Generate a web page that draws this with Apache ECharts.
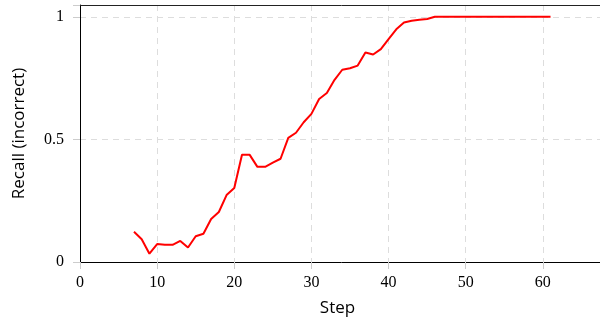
<!DOCTYPE html>
<html><head><meta charset="utf-8">
<script src="https://cdn.jsdelivr.net/npm/echarts@6/dist/echarts.min.js"></script>
<style>html,body{margin:0;padding:0;background:#fff;overflow:hidden;width:600px;height:322px}#c{width:606px;height:322px}</style>
</head><body><div id="c"></div>
<script>
var steps = [7,8,9,10,11,12,13,14,15,16,17,18,19,20,21,22,23,24,25,26,27,28,29,30,31,32,33,34,35,36,37,38,39,40,41,42,43,44,45,46,47,48,49,50,51,52,53,54,55,56,57,58,59,60,61];
var recall = [0.123,0.093,0.034,0.073,0.070,0.070,0.086,0.059,0.105,0.115,0.175,0.204,0.273,0.302,0.437,0.437,0.388,0.388,0.405,0.421,0.506,0.527,0.570,0.604,0.665,0.689,0.743,0.784,0.790,0.801,0.854,0.846,0.868,0.909,0.949,0.977,0.984,0.988,0.991,1,1,1,1,1,1,1,1,1,1,1,1,1,1,1,1];
var xTicks = [0,10,20,30,40,50,60];
var yTicks = [0,0.5,1];

var chart = echarts.init(document.getElementById('c'));
var serif = '"Liberation Serif", serif';
var sans = '"Open Sans", sans-serif';
var XMAX = 67.8;
chart.setOption({
  animation:false,
  grid:{left:80,right:0,top:5,bottom:59},
  xAxis:[{type:'value',min:0,max:XMAX,interval:10,
    name:'Step',nameLocation:'middle',nameGap:38,
    nameTextStyle:{fontFamily:sans,fontSize:17,color:'#000',padding:[0,8,0,0]},
    axisLine:{lineStyle:{color:'#000',width:1}},
    axisTick:{show:true,length:7,lineStyle:{color:'#ccc'}},
    axisLabel:{fontFamily:serif,fontSize:16,color:'#000',margin:13,
      formatter:function(v){return xTicks.indexOf(v)>=0?String(v):'';}},
    splitLine:{show:true,lineStyle:{color:'#ddd',type:[6,5]}}},
   {type:'value',position:'top',min:0,max:XMAX,
    axisLine:{show:true,lineStyle:{color:'#222',width:1}},
    axisTick:{show:false},axisLabel:{show:false},splitLine:{show:false}}],
  yAxis:{type:'value',min:0,max:1.048,interval:0.5,
    name:'Recall (incorrect)',nameLocation:'middle',nameGap:52,
    nameTextStyle:{fontFamily:sans,fontSize:17,color:'#000'},
    axisLine:{show:true,lineStyle:{color:'#000',width:1}},
    axisTick:{show:true,length:7,lineStyle:{color:'#ccc'}},
    axisLabel:{fontFamily:serif,fontSize:16,color:'#000',margin:16,
      formatter:function(v){return yTicks.indexOf(v)>=0?String(v):'';}},
    splitLine:{show:true,lineStyle:{color:'#ddd',type:[6,5]}}},
  series:[{type:'line',xAxisIndex:0,data:steps.map(function(s,i){return [s,recall[i]];}),
    showSymbol:false,lineStyle:{color:'#ff0000',width:2},itemStyle:{color:'#ff0000'}}]
});
</script></body></html>
